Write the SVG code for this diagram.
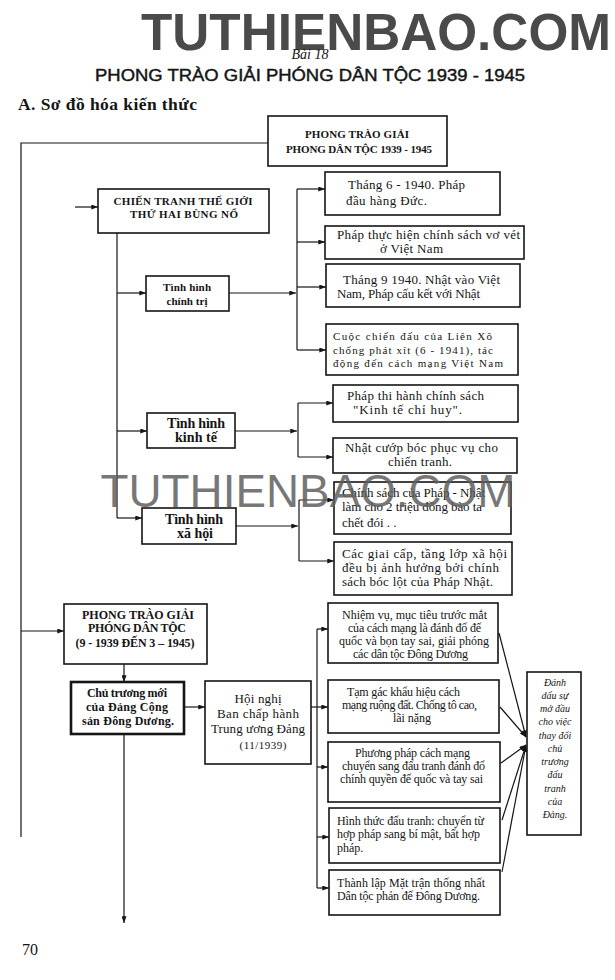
<svg xmlns="http://www.w3.org/2000/svg" width="615" height="980" viewBox="0 0 615 980">
<style>
.box{fill:#fff;stroke:#151515;stroke-width:1.6}
.thick{stroke-width:2.6}
.c{fill:none;stroke:#151515;stroke-width:1.2}
.s{font-family:"Liberation Serif","Times New Roman",serif;fill:#151515}
.b{font-weight:bold}
.m{text-anchor:middle}
.f10{font-size:10px}
.f11{font-size:11px}
.f12{font-size:12px}
.f13{font-size:13px}
.f14{font-size:14px}
.it{font-style:italic}
</style>
<defs>
<marker id="ar" viewBox="0 0 8 6" refX="8" refY="3" markerWidth="7" markerHeight="5" markerUnits="userSpaceOnUse" orient="auto">
<path d="M0,0 L8,3 L0,6 z" fill="#151515"/>
</marker>
</defs>
<rect width="615" height="980" fill="#fff"/>

<!-- headings -->
<text x="376" y="50" text-anchor="middle" font-family="'Liberation Sans',Arial,sans-serif" font-weight="bold" font-size="51" fill="#4a4a4a" textLength="470" lengthAdjust="spacingAndGlyphs">TUTHIENBAO.COM</text>
<text x="310" y="59" class="s it m" font-size="14">Bài 18</text>
<text x="310" y="81" text-anchor="middle" font-family="'Liberation Sans',Arial,sans-serif" font-size="17" fill="#151515" stroke="#151515" stroke-width="0.45" textLength="430" lengthAdjust="spacingAndGlyphs">PHONG TRÀO GIẢI PHÓNG DÂN TỘC 1939 - 1945</text>
<text x="18" y="110" class="s b" font-size="17.5" textLength="179">A. Sơ đồ hóa kiến thức</text>

<!-- connectors -->
<g id="connectors">
<polyline class="c" points="268,143 21,143 21,837"/>
<line class="c" x1="21" y1="631" x2="64" y2="631" marker-end="url(#ar)"/>
<line class="c" x1="75" y1="207" x2="98" y2="207" marker-end="url(#ar)"/>
<line class="c" x1="117" y1="233" x2="117" y2="518"/>
<line class="c" x1="117" y1="293" x2="146" y2="293" marker-end="url(#ar)"/>
<line class="c" x1="117" y1="431" x2="147" y2="431" marker-end="url(#ar)"/>
<line class="c" x1="117" y1="518" x2="142" y2="518" marker-end="url(#ar)"/>
<line class="c" x1="229" y1="293" x2="296" y2="293" marker-end="url(#ar)"/>
<line class="c" x1="297" y1="189" x2="297" y2="350"/>
<line class="c" x1="297" y1="189" x2="325" y2="189" marker-end="url(#ar)"/>
<line class="c" x1="297" y1="242" x2="325" y2="242" marker-end="url(#ar)"/>
<line class="c" x1="297" y1="287" x2="326" y2="287" marker-end="url(#ar)"/>
<line class="c" x1="297" y1="350" x2="326" y2="350" marker-end="url(#ar)"/>
<line class="c" x1="235" y1="431" x2="297" y2="431" marker-end="url(#ar)"/>
<line class="c" x1="298" y1="403" x2="298" y2="457"/>
<line class="c" x1="298" y1="403" x2="333" y2="403" marker-end="url(#ar)"/>
<line class="c" x1="298" y1="457" x2="333" y2="457" marker-end="url(#ar)"/>
<line class="c" x1="236" y1="526" x2="298" y2="526" marker-end="url(#ar)"/>
<line class="c" x1="299" y1="500" x2="299" y2="561"/>
<line class="c" x1="299" y1="500" x2="334" y2="500" marker-end="url(#ar)"/>
<line class="c" x1="299" y1="561" x2="334" y2="561" marker-end="url(#ar)"/>
<line class="c" x1="124" y1="664" x2="124" y2="682" marker-end="url(#ar)"/>
<line class="c" x1="184" y1="707" x2="205" y2="707" marker-end="url(#ar)"/>
<line class="c" x1="124" y1="734" x2="124" y2="923" marker-end="url(#ar)"/>
<line class="c" x1="311" y1="707" x2="328" y2="707" marker-end="url(#ar)"/>
<line class="c" x1="317" y1="629" x2="317" y2="888"/>
<line class="c" x1="317" y1="629" x2="328" y2="629" marker-end="url(#ar)"/>
<line class="c" x1="317" y1="767" x2="328" y2="767" marker-end="url(#ar)"/>
<line class="c" x1="317" y1="837" x2="329" y2="837" marker-end="url(#ar)"/>
<line class="c" x1="317" y1="888" x2="329" y2="888" marker-end="url(#ar)"/>
<line class="c" x1="499" y1="633" x2="526" y2="737" marker-end="url(#ar)"/>
<line class="c" x1="500" y1="707" x2="526" y2="737" marker-end="url(#ar)"/>
<line class="c" x1="501" y1="763" x2="526" y2="745" marker-end="url(#ar)"/>
<line class="c" x1="502" y1="820" x2="526" y2="745" marker-end="url(#ar)"/>
<line class="c" x1="502" y1="872" x2="526" y2="745" marker-end="url(#ar)"/>
</g>

<!-- nodes -->
<g id="n-root">
<rect class="box" x="268" y="116" width="179" height="50"/>
<text class="s b m f11" x="357" y="138" textLength="104">PHONG TRÀO GIẢI</text>
<text class="s b m f11" x="359" y="153" textLength="146">PHONG DÂN TỘC 1939 - 1945</text>
</g>
<g id="n-war">
<rect class="box" x="98" y="189" width="171" height="44"/>
<text class="s b m f11" x="183" y="205" textLength="139">CHIẾN TRANH THẾ GIỚI</text>
<text class="s b m f11" x="184" y="218" textLength="108">THỨ HAI BÙNG NỔ</text>
</g>
<g id="n-ct">
<rect class="box" x="146" y="276" width="83" height="35"/>
<text class="s b m f11" x="187" y="291" textLength="48">Tình hình</text>
<text class="s b m f11" x="187" y="305" textLength="41">chính trị</text>
</g>
<g id="n-ct1">
<rect class="box" x="325" y="172" width="175" height="43"/>
<text class="s f13" x="348" y="189" textLength="117">Tháng 6 - 1940. Pháp</text>
<text class="s f13" x="346" y="205" textLength="81">đầu hàng Đức.</text>
</g>
<g id="n-ct2">
<rect class="box" x="325" y="226" width="199" height="33"/>
<text class="s f13" x="337" y="239" textLength="183">Pháp thực hiện chính sách vơ vét</text>
<text class="s f13" x="380" y="253" textLength="63">ở Việt Nam</text>
</g>
<g id="n-ct3">
<rect class="box" x="326" y="264" width="194" height="43"/>
<text class="s f13" x="343" y="284" textLength="157">Tháng 9 1940. Nhật vào Việt</text>
<text class="s f13" x="337" y="298" textLength="143">Nam, Pháp cấu kết với Nhật</text>
</g>
<g id="n-ct4">
<rect class="box" x="326" y="324" width="192" height="51"/>
<text class="s f11" x="333" y="340" textLength="159">Cuộc chiến đấu của Liên Xô</text>
<text class="s f11" x="333" y="354" textLength="160">chống phát xít (6 - 1941), tác</text>
<text class="s f11" x="333" y="367" textLength="170">động đến cách mạng Việt Nam</text>
</g>
<g id="n-kt">
<rect class="box" x="147" y="413" width="88" height="35"/>
<text class="s b m f14" x="196" y="428" textLength="58">Tình hình</text>
<text class="s b m f14" x="196" y="442" textLength="42">kinh tế</text>
</g>
<g id="n-kt1">
<rect class="box" x="333" y="385" width="185" height="37"/>
<text class="s f13" x="347" y="400" textLength="137">Pháp thi hành chính sách</text>
<text class="s f13" x="353" y="414" textLength="109">"Kinh tế chỉ huy".</text>
</g>
<g id="n-kt2">
<rect class="box" x="333" y="438" width="184" height="35"/>
<text class="s f13" x="345" y="452" textLength="153">Nhật cướp bóc phục vụ cho</text>
<text class="s f13" x="388" y="466" textLength="64">chiến tranh.</text>
</g>
<g id="n-xh">
<rect class="box" x="142" y="508" width="94" height="36"/>
<text class="s b m f14" x="194" y="524" textLength="58">Tình hình</text>
<text class="s b m f14" x="195" y="538" textLength="36">xã hội</text>
</g>
<g id="n-xh1">
<rect class="box" x="334" y="482" width="177" height="52"/>
<text class="s f13" x="342" y="497" textLength="143">Chính sách của Pháp - Nhật</text>
<text class="s f13" x="342" y="511" textLength="140">làm cho 2 triệu đồng bào ta</text>
<text class="s f13" x="342" y="527">chết đói . .</text>
</g>
<g id="n-xh2">
<rect class="box" x="334" y="542" width="178" height="53"/>
<text class="s f13" x="342" y="558" textLength="165">Các giai cấp, tầng lớp xã hội</text>
<text class="s f13" x="342" y="572" textLength="157">đều bị ảnh hưởng bởi chính</text>
<text class="s f13" x="342" y="586" textLength="151">sách bóc lột của Pháp Nhật.</text>
</g>
<g id="n-pt">
<rect class="box" x="64" y="604" width="143" height="60"/>
<text class="s b m f12" x="138" y="619" textLength="112">PHONG TRÀO GIẢI</text>
<text class="s b m f12" x="137" y="632" textLength="98">PHÓNG DÂN TỘC</text>
<text class="s b m f12" x="135" y="647" textLength="119">(9 - 1939 ĐẾN 3 – 1945)</text>
</g>
<g id="n-chutruong">
<rect class="box thick" x="71" y="682" width="113" height="52"/>
<text class="s b m f12" x="127" y="697" textLength="80">Chủ trương mới</text>
<text class="s b m f12" x="127" y="711" textLength="82">của  Đảng Cộng</text>
<text class="s b m f12" x="128" y="725" textLength="92">sản Đông Dương.</text>
</g>
<g id="n-hoinghi">
<rect class="box" x="205" y="681" width="106" height="83"/>
<text class="s m f13" x="258" y="703" textLength="47">Hội nghị</text>
<text class="s m f13" x="258" y="718" textLength="82">Ban chấp hành</text>
<text class="s m f13" x="258" y="733" textLength="94">Trung ương Đảng</text>
<text class="s m f11" x="263" y="749" textLength="47">(11/1939)</text>
</g>
<g id="n-r1">
<rect class="box" x="328" y="603" width="170" height="60"/>
<text class="s f12" x="342" y="619" textLength="145">Nhiệm vụ, mục tiêu trước mắt</text>
<text class="s f12" x="348" y="632" textLength="133">của cách mạng là đánh đổ đế</text>
<text class="s f12" x="339" y="645" textLength="150">quốc và bọn tay sai, giải phóng</text>
<text class="s f12" x="353" y="658" textLength="115">các dân tộc Đông Dương</text>
</g>
<g id="n-r2">
<rect class="box" x="328" y="680" width="171" height="53"/>
<text class="s f12" x="347" y="696" textLength="113">Tạm gác khẩu hiệu cách</text>
<text class="s f12" x="342" y="709" textLength="135">mạng ruộng đất. Chống tô cao,</text>
<text class="s f12" x="393" y="722" textLength="38">lãi nặng</text>
</g>
<g id="n-r3">
<rect class="box" x="328" y="742" width="172" height="60"/>
<text class="s f12" x="355" y="757" textLength="115">Phương pháp cách mạng</text>
<text class="s f12" x="342" y="770" textLength="143">chuyển sang đấu tranh đánh đổ</text>
<text class="s f12" x="340" y="783" textLength="143">chính quyền đế quốc và tay sai</text>
</g>
<g id="n-r4">
<rect class="box" x="329" y="808" width="171" height="55"/>
<text class="s f12" x="337" y="825" textLength="147">Hình thức đấu tranh: chuyển từ</text>
<text class="s f12" x="337" y="838" textLength="143">hợp pháp sang bí mật, bất hợp</text>
<text class="s f12" x="337" y="852">pháp.</text>
</g>
<g id="n-r5">
<rect class="box" x="329" y="870" width="171" height="45"/>
<text class="s f12" x="337" y="887" textLength="148">Thành lập Mặt trận thống nhất</text>
<text class="s f12" x="337" y="900" textLength="143">Dân tộc phản đế Đông Dương.</text>
</g>
<g id="n-danhdau">
<rect class="box" x="527" y="672" width="54" height="163"/>
<g class="s it m f10">
<text x="555" y="686">Đánh</text>
<text x="555" y="699">dấu sự</text>
<text x="555" y="712">mở đầu</text>
<text x="555" y="725">cho việc</text>
<text x="555" y="739">thay đổi</text>
<text x="555" y="752">chủ</text>
<text x="555" y="765">trương</text>
<text x="555" y="778">đấu</text>
<text x="555" y="792">tranh</text>
<text x="555" y="805">của</text>
<text x="555" y="818">Đảng.</text>
</g>
</g>

<text x="22" y="955" class="s" font-size="16">70</text>
<text x="308" y="507" text-anchor="middle" font-family="'Liberation Sans',Arial,sans-serif" font-size="46" fill="#5e5e5e" fill-opacity="0.85" textLength="415" lengthAdjust="spacingAndGlyphs">TUTHIENBAO.COM</text>
</svg>
